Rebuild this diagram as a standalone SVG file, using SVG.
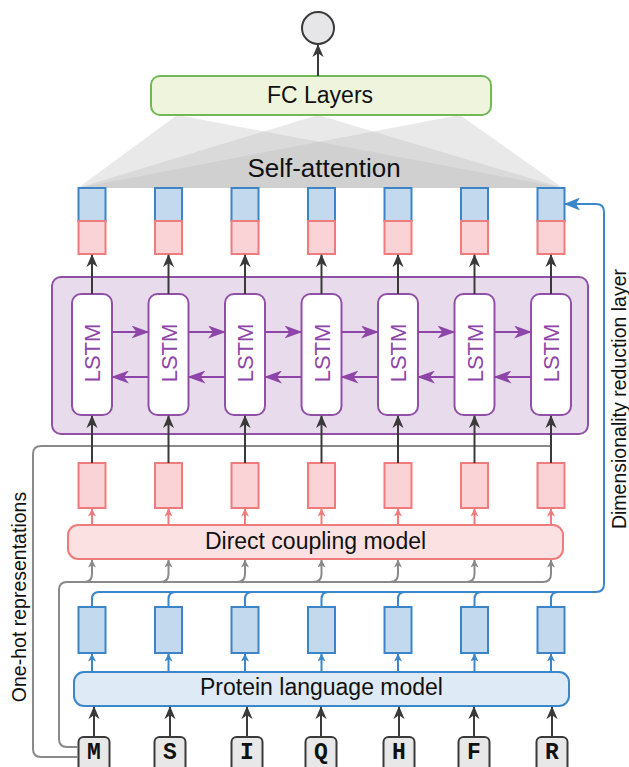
<svg xmlns="http://www.w3.org/2000/svg" width="629" height="767" viewBox="0 0 629 767">
<style>
  text { font-family: "Liberation Sans", Arial, sans-serif; fill: #111; }
  .lbl { font-size: 23px; text-anchor: middle; }
  .side { font-size: 19.5px; text-anchor: middle; }
  .lstm { fill: #fff; stroke: #9150a8; stroke-width: 2; }
  .lstmt { font-size: 22px; fill: #8e45a8; text-anchor: middle; }
  .bbox { fill: #c2d9ee; stroke: #3d84c6; stroke-width: 2; }
  .rbox { fill: #f9d3d5; stroke: #f07b7c; stroke-width: 2; }
  .dark { stroke: #3a3a3a; stroke-width: 2; fill: none; }
  .purp { stroke: #8e45a8; stroke-width: 2; fill: none; }
  .red { stroke: #f07b7c; stroke-width: 2; fill: none; }
  .blue { stroke: #3b87c9; stroke-width: 2; fill: none; }
  .gray { stroke: #8a8a8a; stroke-width: 2; fill: none; }
  .tri { fill: #bdbdbd; fill-opacity: 0.33; stroke: none; }
  .letter { fill: #e8e8e8; stroke: #3a3a3a; stroke-width: 2; }
  .lett { font-family: "Liberation Mono", "Courier New", monospace; font-weight: bold; font-size: 23px; text-anchor: middle; fill: #111; }
</style>
<defs>
  <marker id="aDark" viewBox="0 0 14 12" markerWidth="13" markerHeight="12" refX="13" refY="6" orient="auto" markerUnits="userSpaceOnUse">
    <path d="M0,0 L14,6 L0,12 L4,6 z" fill="#3a3a3a"/>
  </marker>
  <marker id="aPurp" viewBox="0 0 18 13" markerWidth="18" markerHeight="13" refX="17" refY="6.5" orient="auto" markerUnits="userSpaceOnUse">
    <path d="M0,0 L18,6.5 L0,13 L5,6.5 z" fill="#8e45a8"/>
  </marker>
  <marker id="aBlueBig" viewBox="0 0 16 13" markerWidth="16" markerHeight="13" refX="15" refY="6.5" orient="auto" markerUnits="userSpaceOnUse">
    <path d="M0,0 L16,6.5 L0,13 L4,6.5 z" fill="#3b87c9"/>
  </marker>
  <marker id="aRed" viewBox="0 0 8 8" markerWidth="8" markerHeight="8" refX="7.5" refY="4" orient="auto" markerUnits="userSpaceOnUse">
    <path d="M0,0 L8,4 L0,8 L2,4 z" fill="#f07b7c"/>
  </marker>
  <marker id="aBlue" viewBox="0 0 8 8" markerWidth="8" markerHeight="8" refX="7.5" refY="4" orient="auto" markerUnits="userSpaceOnUse">
    <path d="M0,0 L8,4 L0,8 L2,4 z" fill="#3b87c9"/>
  </marker>
  <marker id="aGray" viewBox="0 0 8 8" markerWidth="8" markerHeight="8" refX="7.5" refY="4" orient="auto" markerUnits="userSpaceOnUse">
    <path d="M0,0 L8,4 L0,8 L2,4 z" fill="#8a8a8a"/>
  </marker>
</defs>

<!-- self-attention fan -->
<g id="self-attention">
  <polygon class="tri" points="177,115 78,188 563,188"/>
  <polygon class="tri" points="318,115 78,188 563,188"/>
  <polygon class="tri" points="460,115 78,188 563,188"/>
  <text x="324" y="177" style="font-size:26px;text-anchor:middle">Self-attention</text>
</g>

<g id="output">
  <circle cx="318" cy="28" r="16" fill="#e6e6e8" stroke="#3a3a3a" stroke-width="2"/>
</g>

<g id="fc-layers">
  <rect x="151" y="76" width="340" height="39" rx="9" fill="#eff5dd" stroke="#72b856" stroke-width="2"/>
  <text class="lbl" x="320" y="103">FC Layers</text>
</g>

<g id="top-vectors">
  <rect class="bbox" x="78.5" y="188" width="27" height="33"/><rect class="rbox" x="78.5" y="221" width="27" height="33"/>
  <rect class="bbox" x="155" y="188" width="27" height="33"/><rect class="rbox" x="155" y="221" width="27" height="33"/>
  <rect class="bbox" x="231.5" y="188" width="27" height="33"/><rect class="rbox" x="231.5" y="221" width="27" height="33"/>
  <rect class="bbox" x="308" y="188" width="27" height="33"/><rect class="rbox" x="308" y="221" width="27" height="33"/>
  <rect class="bbox" x="384.5" y="188" width="27" height="33"/><rect class="rbox" x="384.5" y="221" width="27" height="33"/>
  <rect class="bbox" x="461" y="188" width="27" height="33"/><rect class="rbox" x="461" y="221" width="27" height="33"/>
  <rect class="bbox" x="537.5" y="188" width="27" height="33"/><rect class="rbox" x="537.5" y="221" width="27" height="33"/>
</g>

<g id="bilstm">
  <rect x="52" y="277" width="536" height="157" rx="9" fill="#e8dcec" stroke="#9150a8" stroke-width="2"/>
  <g id="lstm1"><rect class="lstm" x="72" y="294" width="40" height="121" rx="9"/><text class="lstmt" transform="translate(100,353) rotate(-90)">LSTM</text></g>
  <g id="lstm2"><rect class="lstm" x="148.5" y="294" width="40" height="121" rx="9"/><text class="lstmt" transform="translate(176.5,353) rotate(-90)">LSTM</text></g>
  <g id="lstm3"><rect class="lstm" x="225" y="294" width="40" height="121" rx="9"/><text class="lstmt" transform="translate(253,353) rotate(-90)">LSTM</text></g>
  <g id="lstm4"><rect class="lstm" x="301.5" y="294" width="40" height="121" rx="9"/><text class="lstmt" transform="translate(329.5,353) rotate(-90)">LSTM</text></g>
  <g id="lstm5"><rect class="lstm" x="378" y="294" width="40" height="121" rx="9"/><text class="lstmt" transform="translate(406,353) rotate(-90)">LSTM</text></g>
  <g id="lstm6"><rect class="lstm" x="454.5" y="294" width="40" height="121" rx="9"/><text class="lstmt" transform="translate(482.5,353) rotate(-90)">LSTM</text></g>
  <g id="lstm7"><rect class="lstm" x="531" y="294" width="40" height="121" rx="9"/><text class="lstmt" transform="translate(559,353) rotate(-90)">LSTM</text></g>
</g>

<g id="dca-vectors">
  <rect class="rbox" x="78.5" y="463" width="27" height="45"/>
  <rect class="rbox" x="155" y="463" width="27" height="45"/>
  <rect class="rbox" x="231.5" y="463" width="27" height="45"/>
  <rect class="rbox" x="308" y="463" width="27" height="45"/>
  <rect class="rbox" x="384.5" y="463" width="27" height="45"/>
  <rect class="rbox" x="461" y="463" width="27" height="45"/>
  <rect class="rbox" x="537.5" y="463" width="27" height="45"/>
</g>

<g id="direct-coupling-model">
  <rect x="68" y="525" width="495" height="34" rx="10" fill="#fce1e2" stroke="#f07b7c" stroke-width="2"/>
  <text class="lbl" x="315.5" y="549">Direct coupling model</text>
</g>

<g id="plm-vectors">
  <rect class="bbox" x="78.5" y="607" width="27" height="46"/>
  <rect class="bbox" x="155" y="607" width="27" height="46"/>
  <rect class="bbox" x="231.5" y="607" width="27" height="46"/>
  <rect class="bbox" x="308" y="607" width="27" height="46"/>
  <rect class="bbox" x="384.5" y="607" width="27" height="46"/>
  <rect class="bbox" x="461" y="607" width="27" height="46"/>
  <rect class="bbox" x="537.5" y="607" width="27" height="46"/>
</g>

<g id="protein-language-model">
  <rect x="74" y="672" width="495" height="34" rx="10" fill="#deeaf6" stroke="#3b87c9" stroke-width="2"/>
  <text class="lbl" x="321.5" y="695">Protein language model</text>
</g>

<g id="sequence">
  <g id="res-M"><rect class="letter" x="78.5" y="737" width="31" height="38" rx="5"/><text class="lett" x="94" y="759">M</text></g>
  <g id="res-S"><rect class="letter" x="154.5" y="737" width="31" height="38" rx="5"/><text class="lett" x="170" y="759">S</text></g>
  <g id="res-I"><rect class="letter" x="231.5" y="737" width="31" height="38" rx="5"/><text class="lett" x="247" y="759">I</text></g>
  <g id="res-Q"><rect class="letter" x="305.5" y="737" width="31" height="38" rx="5"/><text class="lett" x="321" y="759">Q</text></g>
  <g id="res-H"><rect class="letter" x="383.5" y="737" width="31" height="38" rx="5"/><text class="lett" x="399" y="759">H</text></g>
  <g id="res-F"><rect class="letter" x="458.5" y="737" width="31" height="38" rx="5"/><text class="lett" x="474" y="759">F</text></g>
  <g id="res-R"><rect class="letter" x="536.5" y="737" width="31" height="38" rx="5"/><text class="lett" x="552" y="759">R</text></g>
</g>

<g id="labels">
  <text class="side" transform="translate(26,597) rotate(-90)">One-hot representations</text>
  <text class="side" transform="translate(626,399) rotate(-90)">Dimensionality reduction layer</text>
</g>

<g id="connectors">
  <line class="dark" x1="318" y1="76" x2="318" y2="45" marker-end="url(#aDark)"/>
  <line class="dark" x1="92" y1="294" x2="92" y2="255" marker-end="url(#aDark)"/>
  <line class="dark" x1="168.5" y1="294" x2="168.5" y2="255" marker-end="url(#aDark)"/>
  <line class="dark" x1="245" y1="294" x2="245" y2="255" marker-end="url(#aDark)"/>
  <line class="dark" x1="321.5" y1="294" x2="321.5" y2="255" marker-end="url(#aDark)"/>
  <line class="dark" x1="398" y1="294" x2="398" y2="255" marker-end="url(#aDark)"/>
  <line class="dark" x1="474.5" y1="294" x2="474.5" y2="255" marker-end="url(#aDark)"/>
  <line class="dark" x1="551" y1="294" x2="551" y2="255" marker-end="url(#aDark)"/>
  <line class="purp" x1="112" y1="332" x2="148.5" y2="332" marker-end="url(#aPurp)"/>
  <line class="purp" x1="188.5" y1="332" x2="225" y2="332" marker-end="url(#aPurp)"/>
  <line class="purp" x1="265" y1="332" x2="301.5" y2="332" marker-end="url(#aPurp)"/>
  <line class="purp" x1="341.5" y1="332" x2="378" y2="332" marker-end="url(#aPurp)"/>
  <line class="purp" x1="418" y1="332" x2="454.5" y2="332" marker-end="url(#aPurp)"/>
  <line class="purp" x1="494.5" y1="332" x2="531" y2="332" marker-end="url(#aPurp)"/>
  <line class="purp" x1="148.5" y1="377" x2="112" y2="377" marker-end="url(#aPurp)"/>
  <line class="purp" x1="225" y1="377" x2="188.5" y2="377" marker-end="url(#aPurp)"/>
  <line class="purp" x1="301.5" y1="377" x2="265" y2="377" marker-end="url(#aPurp)"/>
  <line class="purp" x1="378" y1="377" x2="341.5" y2="377" marker-end="url(#aPurp)"/>
  <line class="purp" x1="454.5" y1="377" x2="418" y2="377" marker-end="url(#aPurp)"/>
  <line class="purp" x1="531" y1="377" x2="494.5" y2="377" marker-end="url(#aPurp)"/>
  <path class="gray" d="M78,757 L41,757 Q33,757 33,749 L33,454 Q33,446 41,446 L551,446"/>
  <line class="dark" x1="92" y1="463" x2="92" y2="416" marker-end="url(#aDark)"/>
  <line class="dark" x1="168.5" y1="463" x2="168.5" y2="416" marker-end="url(#aDark)"/>
  <line class="dark" x1="245" y1="463" x2="245" y2="416" marker-end="url(#aDark)"/>
  <line class="dark" x1="321.5" y1="463" x2="321.5" y2="416" marker-end="url(#aDark)"/>
  <line class="dark" x1="398" y1="463" x2="398" y2="416" marker-end="url(#aDark)"/>
  <line class="dark" x1="474.5" y1="463" x2="474.5" y2="416" marker-end="url(#aDark)"/>
  <line class="dark" x1="551" y1="463" x2="551" y2="416" marker-end="url(#aDark)"/>
  <line class="red" x1="92" y1="525" x2="92" y2="509" marker-end="url(#aRed)"/>
  <line class="red" x1="168.5" y1="525" x2="168.5" y2="509" marker-end="url(#aRed)"/>
  <line class="red" x1="245" y1="525" x2="245" y2="509" marker-end="url(#aRed)"/>
  <line class="red" x1="321.5" y1="525" x2="321.5" y2="509" marker-end="url(#aRed)"/>
  <line class="red" x1="398" y1="525" x2="398" y2="509" marker-end="url(#aRed)"/>
  <line class="red" x1="474.5" y1="525" x2="474.5" y2="509" marker-end="url(#aRed)"/>
  <line class="red" x1="551" y1="525" x2="551" y2="509" marker-end="url(#aRed)"/>
  <path class="gray" d="M78,747 L67,747 Q59,747 59,739 L59,590 Q59,582 67,582 L543,582 Q551,582 551,574 L551,560" marker-end="url(#aGray)"/>
  <path class="gray" d="M84,582 Q92,582 92,574 L92,560" marker-end="url(#aGray)"/>
  <path class="gray" d="M160.5,582 Q168.5,582 168.5,574 L168.5,560" marker-end="url(#aGray)"/>
  <path class="gray" d="M237,582 Q245,582 245,574 L245,560" marker-end="url(#aGray)"/>
  <path class="gray" d="M313.5,582 Q321.5,582 321.5,574 L321.5,560" marker-end="url(#aGray)"/>
  <path class="gray" d="M390,582 Q398,582 398,574 L398,560" marker-end="url(#aGray)"/>
  <path class="gray" d="M466.5,582 Q474.5,582 474.5,574 L474.5,560" marker-end="url(#aGray)"/>
  <path class="blue" d="M92,607 L92,599 Q92,592 99,592 L596,592 Q604,592 604,584 L604,212 Q604,204 596,204 L565,204" marker-end="url(#aBlueBig)"/>
  <path class="blue" d="M168.5,607 L168.5,599 Q168.5,592 175.5,592"/>
  <path class="blue" d="M245,607 L245,599 Q245,592 252,592"/>
  <path class="blue" d="M321.5,607 L321.5,599 Q321.5,592 328.5,592"/>
  <path class="blue" d="M398,607 L398,599 Q398,592 405,592"/>
  <path class="blue" d="M474.5,607 L474.5,599 Q474.5,592 481.5,592"/>
  <path class="blue" d="M551,607 L551,599 Q551,592 558,592"/>
  <line class="blue" x1="92" y1="672" x2="92" y2="654" marker-end="url(#aBlue)"/>
  <line class="blue" x1="168.5" y1="672" x2="168.5" y2="654" marker-end="url(#aBlue)"/>
  <line class="blue" x1="245" y1="672" x2="245" y2="654" marker-end="url(#aBlue)"/>
  <line class="blue" x1="321.5" y1="672" x2="321.5" y2="654" marker-end="url(#aBlue)"/>
  <line class="blue" x1="398" y1="672" x2="398" y2="654" marker-end="url(#aBlue)"/>
  <line class="blue" x1="474.5" y1="672" x2="474.5" y2="654" marker-end="url(#aBlue)"/>
  <line class="blue" x1="551" y1="672" x2="551" y2="654" marker-end="url(#aBlue)"/>
  <line class="dark" x1="94" y1="737" x2="94" y2="707" marker-end="url(#aDark)"/>
  <line class="dark" x1="170" y1="737" x2="170" y2="707" marker-end="url(#aDark)"/>
  <line class="dark" x1="247" y1="737" x2="247" y2="707" marker-end="url(#aDark)"/>
  <line class="dark" x1="321" y1="737" x2="321" y2="707" marker-end="url(#aDark)"/>
  <line class="dark" x1="399" y1="737" x2="399" y2="707" marker-end="url(#aDark)"/>
  <line class="dark" x1="474" y1="737" x2="474" y2="707" marker-end="url(#aDark)"/>
  <line class="dark" x1="552" y1="737" x2="552" y2="707" marker-end="url(#aDark)"/>
</g>
</svg>
